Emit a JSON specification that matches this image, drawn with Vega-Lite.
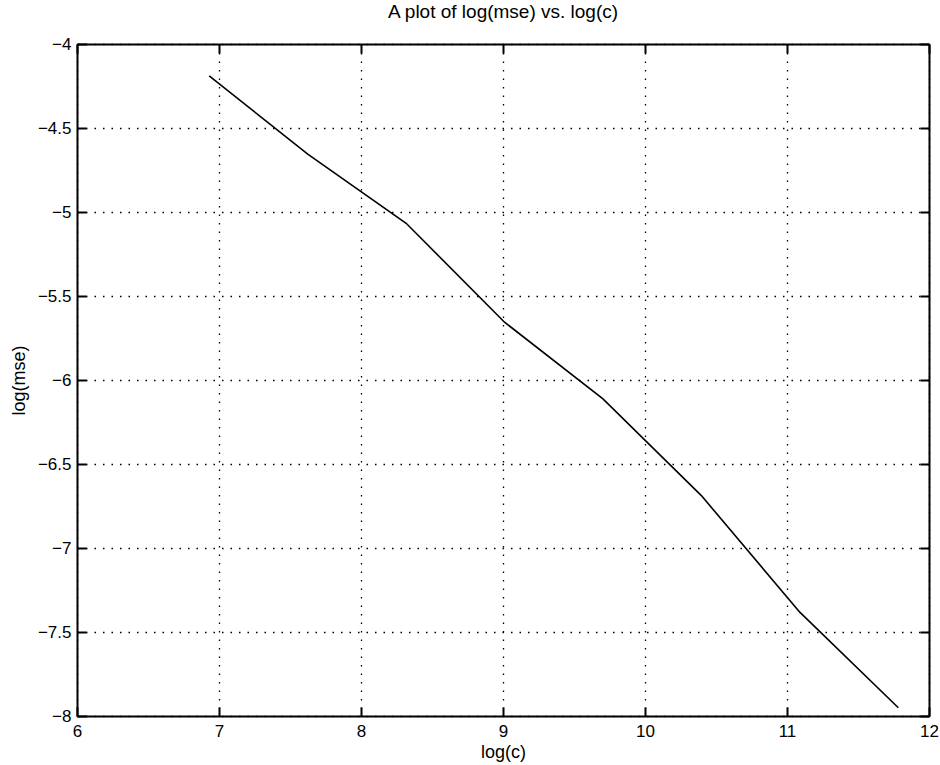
{
  "$schema": "https://vega.github.io/schema/vega-lite/v6.json",
  "autosize": {"type": "none"},
  "padding": {"left": 77, "top": 44, "right": 11, "bottom": 49},
  "width": 852,
  "height": 672,
  "background": "white",
  "title": {"text": "A plot of log(mse) vs. log(c)", "font": "Liberation Sans", "fontSize": 19, "fontWeight": "normal", "color": "black", "offset": 13, "anchor": "middle"},
  "data": {"values": [
    {"logc": 6.931, "logmse": -4.19},
    {"logc": 7.625, "logmse": -4.655},
    {"logc": 8.318, "logmse": -5.067},
    {"logc": 9.011, "logmse": -5.656},
    {"logc": 9.704, "logmse": -6.112},
    {"logc": 10.397, "logmse": -6.688},
    {"logc": 11.09, "logmse": -7.382},
    {"logc": 11.784, "logmse": -7.951}
  ]},
  "config": {
    "view": {"stroke": null},
    "axis": {
      "labelFont": "Liberation Sans", "labelFontSize": 17, "labelColor": "black",
      "titleFont": "Liberation Sans", "titleFontSize": 18, "titleFontWeight": "normal", "titleColor": "black",
      "domainColor": "black", "domainWidth": 2, "tickColor": "black", "tickWidth": 2,
      "gridColor": "black", "gridDash": [1.5, 7], "gridWidth": 1.3, "gridOpacity": 1
    }
  },
  "layer": [
    {
      "mark": {"type": "line", "color": "black", "strokeWidth": 1.6},
      "encoding": {
        "x": {"field": "logc", "type": "quantitative", "title": "log(c)",
              "scale": {"domain": [6, 12], "nice": false, "zero": false},
              "axis": {"orient": "bottom", "values": [6, 7, 8, 9, 10, 11, 12], "grid": true, "ticks": false, "labelPadding": 7, "titlePadding": 4, "labelFlush": false, "labelOverlap": false}},
        "y": {"field": "logmse", "type": "quantitative", "title": "log(mse)",
              "scale": {"domain": [-8, -4], "nice": false, "zero": false},
              "axis": {"orient": "left", "values": [-8, -7.5, -7, -6.5, -6, -5.5, -5, -4.5, -4], "format": ".1~f", "grid": true, "ticks": false, "labelPadding": 6, "titlePadding": 9, "labelFlush": false, "labelOverlap": false}}
      }
    },
    {
      "mark": {"type": "line", "opacity": 0},
      "encoding": {
        "x": {"field": "logc", "type": "quantitative",
              "axis": {"orient": "top", "values": [6, 7, 8, 9, 10, 11, 12], "grid": false, "labels": false, "title": null, "tickSize": -9}},
        "y": {"field": "logmse", "type": "quantitative",
              "axis": {"orient": "right", "values": [-8, -7.5, -7, -6.5, -6, -5.5, -5, -4.5, -4], "grid": false, "labels": false, "title": null, "tickSize": -9}}
      }
    },
    {
      "mark": {"type": "line", "opacity": 0},
      "encoding": {
        "x": {"field": "logc", "type": "quantitative",
              "axis": {"orient": "bottom", "values": [6, 7, 8, 9, 10, 11, 12], "grid": false, "labels": false, "domain": false, "title": null, "tickSize": -9}},
        "y": {"field": "logmse", "type": "quantitative",
              "axis": {"orient": "left", "values": [-8, -7.5, -7, -6.5, -6, -5.5, -5, -4.5, -4], "grid": false, "labels": false, "domain": false, "title": null, "tickSize": -9}}
      }
    }
  ],
  "resolve": {"axis": {"x": "independent", "y": "independent"}}
}
